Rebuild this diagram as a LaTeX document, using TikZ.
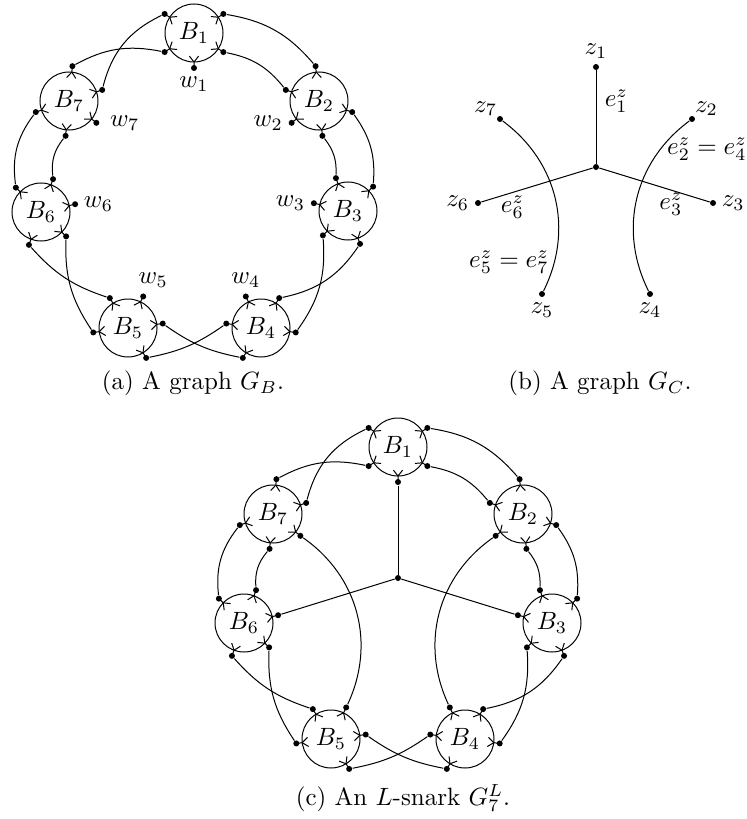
\documentclass[tikz,border=0pt]{standalone}
\usetikzlibrary{calc}

% block B_#3 at #2: circle with five half-edges (dot + small fork)
\newcommand{\blob}[3]{%
  \node[blob] (#1) at (#2) {$B_{#3}$};
  \foreach \p/\a in {w/270,ul/147,ur/33,ll/213,lr/327} {
    \node[dot] (#1-\p) at ($(#1)+({\a-(#3-1)*360/7}:14pt)$) {};
    \coordinate (#1-\p-t) at ($(#1)+({\a-(#3-1)*360/7}:11.6pt)$);
    \draw (#1-\p.center) -- (#1-\p-t) -- +({\a-(#3-1)*360/7+142}:3pt);
    \draw (#1-\p-t) -- +({\a-(#3-1)*360/7-142}:3pt);
  }%
}

\begin{document}
\begin{tikzpicture}[x=0.4pt, y=0.4pt,
  blob/.style={draw, circle, minimum size=23.2pt, inner sep=0pt},
  dot/.style={circle, fill, inner sep=0pt, minimum size=2.4pt},
  captxt/.style={font=\normalsize},
]
  \useasboundingbox (0,0) rectangle (746,-819);

  % (a) graph G_B
  \blob{a1}{194,-33}{1}
  \blob{a2}{319,-101}{2}
  \blob{a3}{348,-211}{3}
  \blob{a4}{261,-328}{4}
  \blob{a5}{128,-328}{5}
  \blob{a6}{41,-212}{6}
  \blob{a7}{69,-101}{7}

  \node[below] (w1) at (a1-w) {$w_1$};
  \node[left] (w2) at (a2-w) {$w_2$};
  \node[left] (w3) at (a3-w) {$w_3$};
  \node[above] (w4) at (a4-w) {$w_4$};
  \node[above, xshift=4pt] (w5) at (a5-w) {$w_5$};
  \node[right] (w6) at (a6-w) {$w_6$};
  \node[right, xshift=2pt] (w7) at (a7-w) {$w_7$};

  % (c) L-snark, same blocks moved
  \blob{c1}{398,-447}{1}
  \blob{c2}{523,-514}{2}
  \blob{c3}{552,-623}{3}
  \blob{c4}{465,-739}{4}
  \blob{c5}{331,-739}{5}
  \blob{c6}{244,-623}{6}
  \blob{c7}{273,-514}{7}

  % ring edges, the same in (a) and (c)
  \foreach \g in {a,c} {
    \draw (\g1-ur) to[bend left=20] (\g2-ul);
    \draw (\g1-lr) to[bend left=20] (\g2-ll);
    \draw (\g2-ur) to[bend left=20] (\g3-ul);
    \draw (\g2-lr) to[bend left=20] (\g3-ll);
    \draw (\g3-ur) to[bend left=22] (\g4-ll);
    \draw (\g3-lr) to[bend left=20] (\g4-ul);
    \draw (\g4-ur) to[bend left=12] (\g5-ll);
    \draw (\g4-lr) to[bend left=12] (\g5-ul);
    \draw (\g5-ur) to[bend left=18] (\g6-ll);
    \draw (\g5-lr) to[bend left=15] (\g6-ul);
    \draw (\g6-ur) to[bend left=22] (\g7-ul);
    \draw (\g6-lr) to[bend left=22] (\g7-ll);
    \draw (\g7-ur) to[bend left=20] (\g1-ll);
    \draw (\g7-lr) to[bend left=25] (\g1-ul);
  }

  \node[dot] (cc) at (398,-578) {};
  \draw (c1-w) -- (cc);
  \draw (c6-w) -- (cc);
  \draw (c3-w) -- (cc);
  \draw (c7-w) to[bend left=40] (c5-w);
  \draw (c2-w) to[bend right=40] (c4-w);

  % (b) graph G_C
  \node[dot] (zc) at (596,-167) {};
  \node[dot] (z1) at (596,-67) {};
  \node[dot] (z2) at (692,-119) {};
  \node[dot] (z3) at (713,-203) {};
  \node[dot] (z4) at (650,-294) {};
  \node[dot] (z5) at (542,-294) {};
  \node[dot] (z6) at (478,-203) {};
  \node[dot] (z7) at (500,-119) {};

  \node[above] (z1l) at (z1) {$z_1$};
  \node[above right, inner sep=1pt] (z2l) at (z2) {$z_2$};
  \node[right] (z3l) at (z3) {$z_3$};
  \node[below] (z4l) at (z4) {$z_4$};
  \node[below] (z5l) at (z5) {$z_5$};
  \node[left] (z6l) at (z6) {$z_6$};
  \node[above left, inner sep=1pt] (z7l) at (z7) {$z_7$};

  \draw (z1) -- node[right, pos=0.33] (e1) {$e^z_1$} (zc);
  \draw (z6) -- node[below, pos=0.28, inner sep=1pt] (e6) {$e^z_6$} (zc);
  \draw (zc) -- node[below, pos=0.65, inner sep=1pt] (e3) {$e^z_3$} (z3);
  \draw (z7) to[bend left=40] (z5);
  \draw (z2) to[bend right=40] (z4);
  \node (e57) at (509,-262) {$e^z_5=e^z_7$};
  \node (e24) at (707,-149) {$e^z_2=e^z_4$};

  % captions
  \node[captxt] (capa) at (193,-383) {(a) A graph $G_B$.};
  \node[captxt] (capb) at (600,-383) {(b) A graph $G_C$.};
  \node[captxt] (capc) at (403,-798) {(c) An $L$-snark $G^L_7$.};
\end{tikzpicture}
\end{document}
